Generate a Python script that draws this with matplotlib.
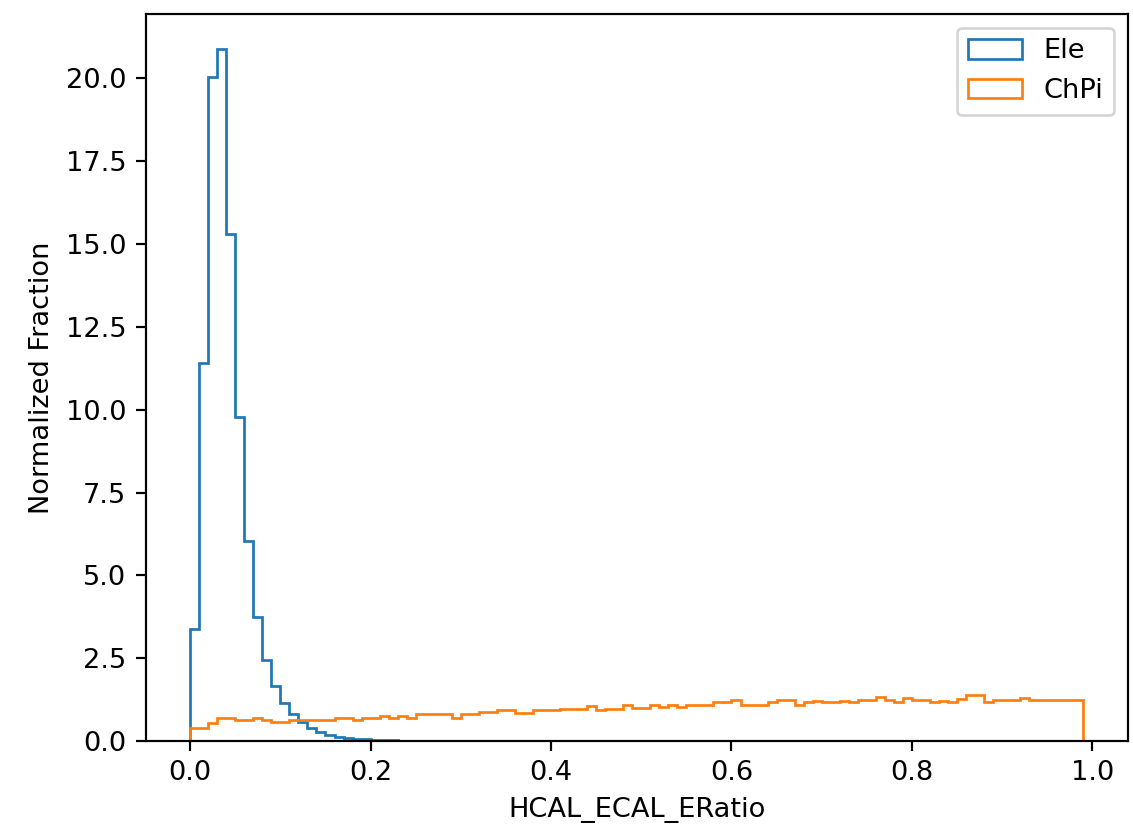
import numpy as np
import matplotlib
matplotlib.use("Agg")
import matplotlib.pyplot as plt

# bin edges: 0.00 .. 0.99 in steps of 0.01 (99 bins)
bin_edges = np.round(np.arange(0, 100) * 0.01, 2)

ele_values = [
    3.37, 11.4, 20.05, 20.9, 15.3, 9.77, 6.05, 3.75, 2.45, 1.67,
    1.14, 0.80, 0.58, 0.38, 0.28, 0.18, 0.13, 0.09, 0.07, 0.05,
    0.03, 0.02, 0.02, 0.01, 0.01, 0.01,
] + [0.0] * 73

chpi_values = [
    0.40, 0.40, 0.53, 0.70, 0.70, 0.62, 0.62, 0.70, 0.64, 0.58,
    0.58, 0.64, 0.64, 0.64, 0.64, 0.64, 0.70, 0.70, 0.62, 0.70,
    0.70, 0.74, 0.70, 0.74, 0.70, 0.80, 0.80, 0.80, 0.80, 0.70,
    0.80, 0.80, 0.87, 0.87, 0.95, 0.95, 0.86, 0.86, 0.95, 0.95,
    0.95, 0.98, 0.98, 0.98, 1.05, 0.93, 0.98, 0.98, 1.10, 1.00,
    1.00, 1.10, 1.03, 1.10, 1.03, 1.10, 1.10, 1.10, 1.17, 1.17,
    1.23, 1.10, 1.10, 1.10, 1.17, 1.23, 1.23, 1.10, 1.17, 1.20,
    1.17, 1.17, 1.22, 1.17, 1.23, 1.23, 1.32, 1.25, 1.17, 1.30,
    1.23, 1.23, 1.17, 1.22, 1.17, 1.28, 1.39, 1.39, 1.17, 1.23,
    1.23, 1.23, 1.30, 1.23, 1.23, 1.23, 1.23, 1.23, 1.23,
]

labels = ["Ele", "ChPi"]
colors = ["#1f77b4", "#ff7f0e"]

dpi = 196
fig = plt.figure(figsize=(1133 / dpi, 829 / dpi), dpi=dpi)
ax = fig.add_axes([145.5 / 1133, 88 / 829, (1128 - 145.5) / 1133, (741 - 14) / 829])

centers = bin_edges[:-1] + 0.005
for vals, lab, col in zip([ele_values, chpi_values], labels, colors):
    ax.hist(centers, bins=bin_edges, weights=vals, histtype="step",
            color=col, label=lab)

ax.set_xlabel("HCAL_ECAL_ERatio")
ax.set_ylabel("Normalized Fraction")
ax.legend(loc="upper right")

fig.savefig("out.png", dpi=dpi)
